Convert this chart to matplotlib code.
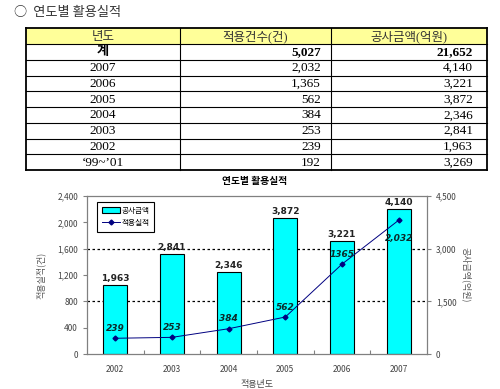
import matplotlib
matplotlib.use("Agg")
import matplotlib.pyplot as plt
from matplotlib.patches import Rectangle
from matplotlib.lines import Line2D
from matplotlib.ticker import FuncFormatter, FixedLocator

plt.rcParams['font.family'] = ['Noto Sans CJK KR', 'DejaVu Sans']

# ---------------- data ----------------
page_title = "○  연도별 활용실적"
table_header = ["년도", "적용건수(건)", "공사금액(억원)"]
table_years = ["계", "2007", "2006", "2005", "2004", "2003", "2002", "‘99~’01"]
table_counts = ["5,027", "2,032", "1,365", "562", "384", "253", "239", "192"]
table_amounts = ["21,652", "4,140", "3,221", "3,872", "2,346", "2,841", "1,963", "3,269"]

chart_title = "연도별 활용실적"
years = ["2002", "2003", "2004", "2005", "2006", "2007"]
amounts = [1963, 2841, 2346, 3872, 3221, 4140]      # 공사금액 (right axis)
counts = [239, 253, 384, 562, 1365, 2032]          # 적용실적 (left axis)
count_labels = ["239", "253", "384", "562", "1365", "2,032"]
left_ticks = [0, 400, 800, 1200, 1600, 2000, 2400]
right_ticks = [0, 1500, 3000, 4500]

W, H = 500, 389
fig = plt.figure(figsize=(W / 100, H / 100), dpi=100)

# ---------------- table (pixel overlay) ----------------
ov = fig.add_axes([0, 0, 1, 1], zorder=0)
ov.set_xlim(0, W)
ov.set_ylim(H, 0)
ov.axis('off')

ov.text(14, 12, page_title, fontsize=9.5, color='#333333', va='center', ha='left',
        family=['Noto Sans CJK KR', 'DejaVu Sans'])

col_x = [26, 180, 331, 487]
row_top = 28
header_h = 16
row_h = 15.75
n_rows = len(table_years)
bottom = row_top + header_h + n_rows * row_h

ov.add_patch(Rectangle((col_x[0], row_top), col_x[-1] - col_x[0], header_h,
                       facecolor='#FFFF99', edgecolor='none'))
ys = [row_top, row_top + header_h] + [row_top + header_h + (i + 1) * row_h for i in range(n_rows)]
for k, y in enumerate(ys):
    lw = 1.3 if k in (0, len(ys) - 1) else 0.8
    ov.plot([col_x[0], col_x[-1]], [y, y], color='black', lw=lw)
for k, xx in enumerate(col_x):
    lw = 1.3 if k in (0, len(col_x) - 1) else 0.8
    ov.plot([xx, xx], [row_top, bottom], color='black', lw=lw)

serif = ['Liberation Serif', 'Noto Sans CJK KR']
for j, h in enumerate(table_header):
    ov.text((col_x[j] + col_x[j + 1]) / 2, row_top + header_h / 2 + 0.5, h,
            ha='center', va='center', fontsize=9, color='#333333', family=serif)
for i in range(n_rows):
    yc = row_top + header_h + (i + 0.5) * row_h + 0.5
    fw = 'bold' if i == 0 else 'normal'
    ov.text((col_x[0] + col_x[1]) / 2, yc, table_years[i], ha='center', va='center',
            fontsize=9.5, family=serif, fontweight=fw)
    ov.text(col_x[2] - 10, yc, table_counts[i], ha='right', va='center',
            fontsize=9.5, family=serif, fontweight=fw)
    ov.text(col_x[3] - 14, yc, table_amounts[i], ha='right', va='center',
            fontsize=9.5, family=serif, fontweight=fw)

# ---------------- chart ----------------
ov.text(255, 181, chart_title, ha='center', va='center', fontsize=7, fontweight='bold')

left, right = 87 / W, 427 / W
b, t = 1 - 354 / H, 1 - 196 / H
ax2 = fig.add_axes([left, b, right - left, t - b], zorder=1)   # bars, right scale
ax = fig.add_axes([left, b, right - left, t - b], zorder=2, sharex=ax2)
ax.patch.set_visible(False)

x = list(range(len(years)))
gray = '#808080'

# right axis (bars)
ax2.set_ylim(0, 4500)
ax2.yaxis.tick_right()
ax2.yaxis.set_label_position('right')
ax2.set_yticks(right_ticks)
ax2.yaxis.set_major_formatter(FuncFormatter(lambda v, p: f"{int(v):,}"))
for yv in right_ticks[1:-1]:
    ax2.axhline(yv, color='black', lw=0.9, ls=(0, (2, 2)), zorder=1)
ax2.bar(x, amounts, width=0.42, color='#00FFFF', edgecolor='black', lw=0.8, zorder=2)
for i, v in enumerate(amounts):
    ax2.annotate(f"{v:,}", (i, v), xytext=(0, 1.5), textcoords='offset points',
                 ha='center', va='bottom', fontsize=6.5, fontweight='bold', color='#222222',
                 family=['DejaVu Sans'])
ax2.set_xlim(-0.5, len(years) - 0.5)
for s in ax2.spines.values():
    s.set_color(gray)
    s.set_linewidth(0.9)
ax2.tick_params(axis='y', colors=gray, labelcolor='#444444', labelsize=6, length=3, width=0.8)
ax2.set_ylabel("공사금액(억원)", fontsize=6.5, color='#555555', rotation=270, labelpad=10)

# left axis (line)
ax.set_ylim(0, 2400)
ax.set_yticks(left_ticks)
ax.yaxis.set_major_formatter(FuncFormatter(lambda v, p: f"{int(v):,}"))
ax.plot(x, counts, color='#000080', lw=0.7, marker='D', ms=2.5, zorder=3)
for i, (v, lab) in enumerate(zip(counts, count_labels)):
    dy = -13 if i == len(counts) - 1 else 7
    ax.annotate(lab, (i, v), xytext=(0, dy), textcoords='offset points',
                ha='center', va='center', fontsize=6.5, fontweight='bold', style='italic',
                color='#0b2b2b', family=['DejaVu Sans'])
for s in ax.spines.values():
    s.set_visible(False)
ax.tick_params(axis='y', colors=gray, labelcolor='#444444', labelsize=6, length=3, width=0.8)
ax.set_ylabel("적용실적(건)", fontsize=6.5, color='#555555', labelpad=8)

ax2.set_xticks(x)
ax2.set_xticklabels(years)
ax2.xaxis.set_minor_locator(FixedLocator([i + 0.5 for i in range(len(years) - 1)]))
ax2.tick_params(axis='x', which='major', length=0, labelsize=6, labelcolor='#444444', pad=8)
ax2.tick_params(axis='x', which='minor', direction='in', length=3, color=gray, width=0.8)
ax.tick_params(axis='x', which='both', length=0, labelbottom=False)
ax2.set_xlabel("적용년도", fontsize=6.5, color='#444444', labelpad=4)

handles = [Rectangle((0, 0), 1, 1, facecolor='#00FFFF', edgecolor='black', lw=0.8),
           Line2D([0], [0], color='#000080', lw=0.7, marker='D', ms=2.5)]
leg = ax.legend(handles, ["공사금액", "적용실적"], loc='upper left',
                bbox_to_anchor=(97 / W, 1 - 202 / H), bbox_transform=fig.transFigure,
                borderaxespad=0, fontsize=5.5, fancybox=False, framealpha=1,
                edgecolor='black', handlelength=2.4, handleheight=0.8,
                labelspacing=0.6, borderpad=0.6, handletextpad=0.2)
leg.get_frame().set_linewidth(0.8)

fig.savefig("out.png", dpi=100)
